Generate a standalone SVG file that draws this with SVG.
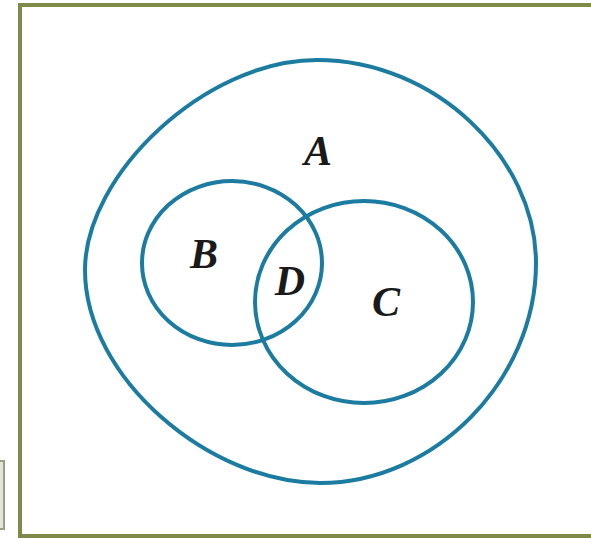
<svg xmlns="http://www.w3.org/2000/svg" width="591" height="539" viewBox="0 0 591 539">
<style>
.set{fill:none;stroke:#1b7ba1;stroke-width:4}
.lbl{font-family:"Liberation Serif","Times New Roman",serif;font-style:italic;font-weight:bold;font-size:42px;fill:#1a1a1a;text-anchor:middle}
</style>
<rect width="591" height="539" fill="#ffffff"/>
<g id="frame">
<path d="M 600 5 L 20 5 L 20 536 L 600 536" fill="none" stroke="#7d8a48" stroke-width="4"/>
<rect x="-2" y="461" width="6" height="68" fill="#e4e6dc" stroke="#9aa084" stroke-width="2"/>
</g>
<g id="setA">
<path class="set" d="M 317 60 C 435 60, 536 158, 536 263 C 536 380, 435 483, 320 483 C 210 483, 85 378, 85 270 C 85 175, 205 60, 317 60 Z"/>
<text class="lbl" x="318" y="165">A</text>
</g>
<g id="setB">
<ellipse class="set" cx="232" cy="263" rx="90" ry="82"/>
<text class="lbl" x="204" y="268">B</text>
</g>
<g id="setC">
<ellipse class="set" cx="364" cy="302" rx="109" ry="101"/>
<text class="lbl" x="386" y="316">C</text>
</g>
<g id="setD">
<text class="lbl" x="290" y="295">D</text>
</g>
<g id="connectors"></g>
</svg>
